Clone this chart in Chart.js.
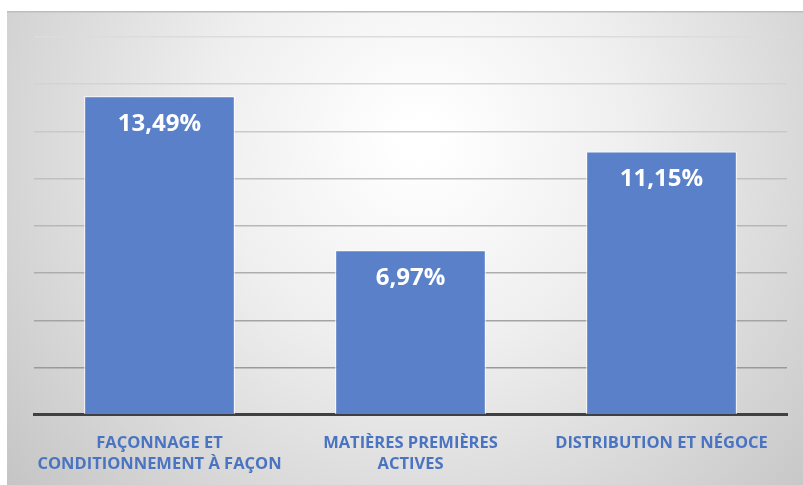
<!DOCTYPE html>
<html><head><meta charset="utf-8">
<script src="https://cdn.jsdelivr.net/npm/chart.js@4/dist/chart.umd.min.js"></script>
<style>html,body{margin:0;padding:0;background:#fff;}#wrap{width:803px;height:485px;position:relative;}</style>
</head><body><div id="wrap"><canvas id="c" width="803" height="485"></canvas></div>
<script>
const categories = [["FAÇONNAGE ET","CONDITIONNEMENT À FAÇON"],["MATIÈRES PREMIÈRES","ACTIVES"],["DISTRIBUTION ET NÉGOCE"]];
const values = [13.49, 6.97, 11.15];
const valueLabels = ["13,49%","6,97%","11,15%"];

const bgPlugin = {
  id:'bg',
  beforeDraw(chart){
    const ctx = chart.ctx;
    ctx.save();
    ctx.fillStyle='#fff';
    ctx.fillRect(0,0,803,485);
    const g = ctx.createRadialGradient(420,140,20,420,140,560);
    g.addColorStop(0,'#ffffff');
    g.addColorStop(0.35,'#efefef');
    g.addColorStop(1,'#c2c2c2');
    ctx.fillStyle=g;
    ctx.fillRect(7,11,796,474);
    ctx.fillStyle='#bdbdbd';
    ctx.fillRect(7,11,796,1.5);
    ctx.restore();
  }
};
const labelPlugin = {
  id:'vl',
  afterDatasetsDraw(chart){
    const ctx=chart.ctx;
    const meta=chart.getDatasetMeta(0);
    ctx.save();
    ctx.fillStyle='#fff';
    ctx.font='bold 24px "Open Sans", Lato, sans-serif';
    ctx.textAlign='center';
    ctx.textBaseline='middle';
    meta.data.forEach((b,i)=>{ ctx.fillText(valueLabels[i], b.x, b.y+28); });
    ctx.restore();
  }
};
new Chart(document.getElementById('c'),{
  type:'bar',
  data:{labels:categories,datasets:[{data:values,backgroundColor:'#5a80ca',borderColor:'#ffffff',borderWidth:1,categoryPercentage:0.6,barPercentage:1}]},
  options:{
    responsive:false,animation:false,
    layout:{padding:{left:34,right:16,top:37,bottom:0}},
    plugins:{legend:{display:false},tooltip:{enabled:false}},
    scales:{
      y:{min:0,max:16,ticks:{stepSize:2,display:false},border:{display:false},
         grid:{drawTicks:false,lineWidth:1.5,color:(c)=>{const v=c.tick?c.tick.value:0; if(v===0) return 'rgba(0,0,0,0)'; const t=v/16; const s=Math.round(145+ t*75); return `rgb(${s},${s},${s})`;}}},
      x:{grid:{display:false},border:{color:'#404040',width:3},
         ticks:{color:'#4a74c2',font:{family:'"Open Sans", Lato, sans-serif',weight:'bold',size:16.5,lineHeight:1.28},padding:10,maxRotation:0,autoSkip:false}}
    }
  },
  plugins:[bgPlugin,labelPlugin]
});
</script></body></html>
